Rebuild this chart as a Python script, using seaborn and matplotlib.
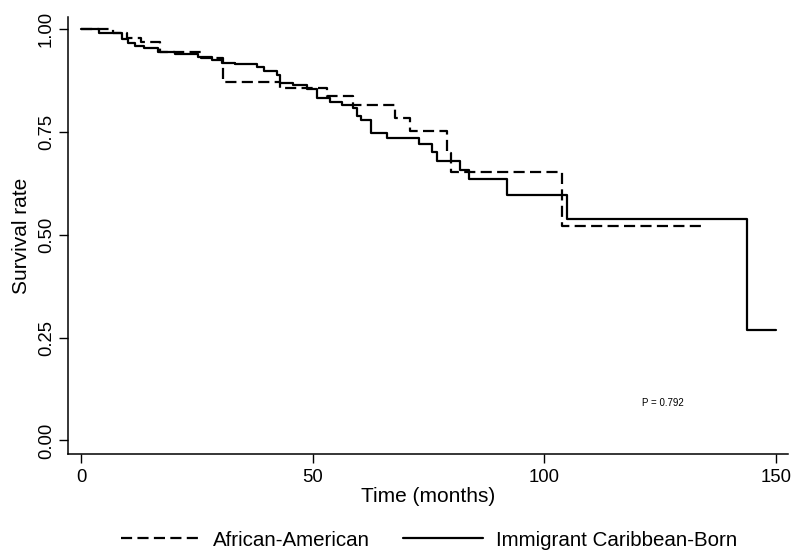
import matplotlib
matplotlib.use("Agg")
import matplotlib.pyplot as plt
import seaborn as sns
import pandas as pd
from matplotlib.ticker import FormatStrFormatter

# ---- data ----
groups = ["African-American", "Immigrant Caribbean-Born"]

aa_time = [0, 7, 10, 13, 17, 26, 30.7, 43, 53, 58.8, 67.8, 71, 78.9, 79.8, 103.9, 134]
aa_surv = [1.0, 0.99, 0.98, 0.97, 0.946, 0.93, 0.873, 0.857, 0.837, 0.815, 0.784,
           0.752, 0.70, 0.652, 0.521, 0.521]

icb_time = [0, 4, 8.8, 10.2, 11.7, 13.5, 16.7, 20.3, 25.3, 28.2, 30.4, 33.3, 37.9,
            39.5, 42.3, 43, 45.8, 48.7, 50.9, 53.8, 56.3, 58.8, 59.5, 60.5, 62.6,
            66, 73, 75.7, 76.8, 81.9, 83.8, 92, 104.8, 143.8, 150]
icb_surv = [1.0, 0.99, 0.977, 0.967, 0.959, 0.955, 0.945, 0.941, 0.933, 0.925,
            0.918, 0.915, 0.908, 0.898, 0.888, 0.87, 0.864, 0.856, 0.834, 0.823,
            0.815, 0.808, 0.789, 0.779, 0.748, 0.736, 0.721, 0.702, 0.68, 0.657,
            0.635, 0.597, 0.538, 0.268, 0.268]

x_ticks = [0, 50, 100, 150]
y_ticks = [0.0, 0.25, 0.5, 0.75, 1.0]
p_text = "P = 0.792"
x_label = "Time (months)"
y_label = "Survival rate"

df = pd.concat([
    pd.DataFrame({"time": aa_time, "surv": aa_surv, "group": groups[0]}),
    pd.DataFrame({"time": icb_time, "surv": icb_surv, "group": groups[1]}),
], ignore_index=True)

# ---- style ----
sns.set_style("ticks")
plt.rcParams["font.family"] = ["Liberation Sans", "DejaVu Sans"]
plt.rcParams["axes.linewidth"] = 1.1
for k in ["text.color", "axes.labelcolor", "xtick.color", "ytick.color", "axes.edgecolor"]:
    plt.rcParams[k] = "black"

fig = plt.figure(figsize=(7.97, 5.58), dpi=100)
ax = fig.add_axes([0.0853, 0.1864, 0.9034, 0.7831])

sns.lineplot(data=df, x="time", y="surv", hue="group", style="group",
             hue_order=groups, style_order=groups,
             palette={groups[0]: "black", groups[1]: "black"},
             dashes={groups[0]: (5, 2.4), groups[1]: ""},
             drawstyle="steps-post", estimator=None, sort=True,
             linewidth=1.6, ax=ax, legend=True)

ax.set_xlim(-2.8, 152.6)
ax.set_ylim(-0.033, 1.03)
ax.set_xticks(x_ticks)
ax.set_yticks(y_ticks)
ax.yaxis.set_major_formatter(FormatStrFormatter("%.2f"))
ax.tick_params(axis="both", direction="out", length=6.5, width=1.0,
               colors="black", labelsize=13.3)
ax.tick_params(axis="x", pad=4)
ax.tick_params(axis="y", pad=3)
plt.setp(ax.get_yticklabels(), rotation=90, va="center")
for s in ["top", "right"]:
    ax.spines[s].set_visible(False)
for s in ["left", "bottom"]:
    ax.spines[s].set_color("black")

ax.set_xlabel(x_label, fontsize=15, labelpad=1)
ax.set_ylabel(y_label, fontsize=15, labelpad=5)

ax.text(125.7, 0.092, p_text, fontsize=7, ha="center", va="center")

handles, labels = ax.get_legend_handles_labels()
ax.get_legend().remove()
fig.legend(handles, labels, loc="center", bbox_to_anchor=(0.538, 0.032),
           ncol=2, frameon=False, fontsize=14.8, handlelength=3.9,
           handletextpad=0.6, columnspacing=1.6)

fig.savefig("out.png", dpi=100)
